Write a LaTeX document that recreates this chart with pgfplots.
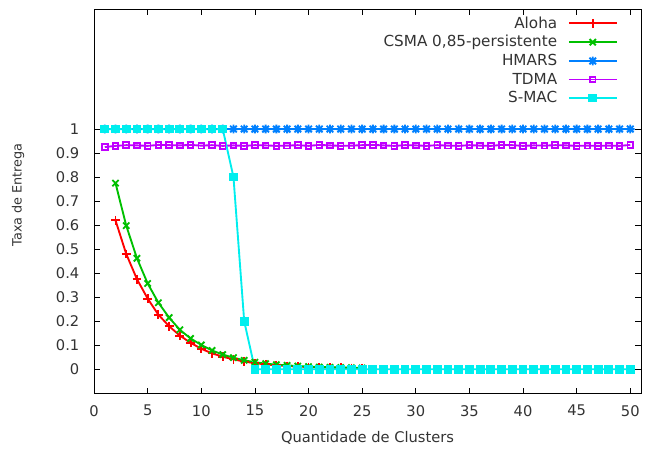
\documentclass[border=0pt]{standalone}
\usepackage{fontspec}
\setmainfont{DejaVu Sans}
\usepackage{pgfplots}
\pgfplotsset{compat=1.18}

\definecolor{gpred}{HTML}{FF0000}
\definecolor{gpgreen}{HTML}{00C000}
\definecolor{gpblue}{HTML}{0080FF}
\definecolor{gpmagenta}{HTML}{C000FF}
\definecolor{gpcyan}{HTML}{00EEEE}

% gnuplot style "*" point: a plus and a cross on top of each other
\pgfdeclareplotmark{gpstar}{%
  \pgfpathmoveto{\pgfqpoint{-\pgfplotmarksize}{0pt}}%
  \pgfpathlineto{\pgfqpoint{\pgfplotmarksize}{0pt}}%
  \pgfpathmoveto{\pgfqpoint{0pt}{-\pgfplotmarksize}}%
  \pgfpathlineto{\pgfqpoint{0pt}{\pgfplotmarksize}}%
  \pgfpathmoveto{\pgfqpoint{-0.75\pgfplotmarksize}{-0.75\pgfplotmarksize}}%
  \pgfpathlineto{\pgfqpoint{0.75\pgfplotmarksize}{0.75\pgfplotmarksize}}%
  \pgfpathmoveto{\pgfqpoint{-0.75\pgfplotmarksize}{0.75\pgfplotmarksize}}%
  \pgfpathlineto{\pgfqpoint{0.75\pgfplotmarksize}{-0.75\pgfplotmarksize}}%
  \pgfusepathqstroke}

\begin{document}
\begin{tikzpicture}
\begin{axis}[
    scale only axis,
    width=410pt, height=288pt,
    xmin=0, xmax=51,
    ymin=-0.1, ymax=1.5,
    xtick={0,5,...,50},
    ytick={0,0.1,0.2,0.3,0.4,0.5,0.6,0.7,0.8,0.9,1},
    yticklabels={0,0.1,0.2,0.3,0.4,0.5,0.6,0.7,0.8,0.9,1},
    /pgf/number format/assume math mode=true,
    tick style={black, line width=0.5pt},
    axis line style={line width=0.6pt},
    tick label style={font=\fontsize{11}{13}\selectfont, black!80},
    x tick label style={yshift=-5.5pt},
    y tick label style={xshift=-7.5pt},
    xlabel={Quantidade de Clusters},
    ylabel={Taxa de Entrega},
    every axis x label/.style={at={(axis description cs:0.5,0)}, anchor=center,
        yshift=-33.5pt, font=\fontsize{11}{13}\selectfont, text=black!80},
    every axis y label/.style={at={(axis description cs:0,0.516)}, anchor=center,
        rotate=90, yshift=57pt, font=\fontsize{9.6}{11}\selectfont, text=black!80},
    legend style={at={(axis description cs:0.965,0.995)}, anchor=north east,
        draw=none, fill=none, font=\fontsize{11.4}{13}\selectfont,
        row sep=0pt, column sep=6pt, text=black!80},
    legend cell align=right,
    legend plot pos=right,
    legend image code/.code={%
        \draw[mark repeat=2,mark phase=2,#1]
        plot coordinates {(0cm,0cm) (0.63cm,0cm) (1.26cm,0cm)};},
]
\addplot[color=gpred, line width=1.4pt, mark=+, mark size=3.3pt] coordinates {
(2,0.620) (3,0.480) (4,0.375) (5,0.294) (6,0.227) (7,0.179) (8,0.140)
(9,0.110) (10,0.085) (11,0.066) (12,0.052) (13,0.041) (14,0.032) (15,0.025)
(16,0.020) (17,0.016) (18,0.013) (19,0.011) (20,0.009) (21,0.008) (22,0.007)
(23,0.006) (24,0.005) (25,0.004)
};
\addlegendentry{Aloha}
\addplot[color=gpgreen, line width=1.4pt, mark=x, mark size=3.3pt] coordinates {
(2,0.775) (3,0.598) (4,0.462) (5,0.357) (6,0.277) (7,0.215) (8,0.164)
(9,0.128) (10,0.101) (11,0.078) (12,0.061) (13,0.048) (14,0.037) (15,0.029)
(16,0.023) (17,0.019) (18,0.016) (19,0.013) (20,0.011) (21,0.009) (22,0.008)
(23,0.007) (24,0.006) (25,0.005)
};
\addlegendentry{CSMA 0,85-persistente}
\addplot[color=gpblue, line width=1.4pt, mark=gpstar, mark size=3.3pt] coordinates {
(1,1) (2,1) (3,1) (4,1) (5,1) (6,1) (7,1) (8,1) (9,1) (10,1)
(11,1) (12,1) (13,1) (14,1) (15,1) (16,1) (17,1) (18,1) (19,1) (20,1)
(21,1) (22,1) (23,1) (24,1) (25,1) (26,1) (27,1) (28,1) (29,1) (30,1)
(31,1) (32,1) (33,1) (34,1) (35,1) (36,1) (37,1) (38,1) (39,1) (40,1)
(41,1) (42,1) (43,1) (44,1) (45,1) (46,1) (47,1) (48,1) (49,1) (50,1)
};
\addlegendentry{HMARS}
\addplot[color=gpmagenta, line width=1.4pt, mark=square, mark size=2.1pt] coordinates {
(1,0.925) (2,0.930) (3,0.933) (4,0.932) (5,0.930) (6,0.934) (7,0.933)
(8,0.932) (9,0.934) (10,0.931) (11,0.933) (12,0.930) (13,0.932) (14,0.930)
(15,0.933) (16,0.932) (17,0.930) (18,0.931) (19,0.933) (20,0.930) (21,0.934)
(22,0.932) (23,0.930) (24,0.931) (25,0.933) (26,0.934) (27,0.932) (28,0.930)
(29,0.933) (30,0.932) (31,0.930) (32,0.933) (33,0.931) (34,0.930) (35,0.933)
(36,0.931) (37,0.930) (38,0.934) (39,0.933) (40,0.930) (41,0.932) (42,0.931)
(43,0.933) (44,0.932) (45,0.930) (46,0.931) (47,0.930) (48,0.931) (49,0.930)
(50,0.934)
};
\addlegendentry{TDMA}
\addplot[color=gpcyan, line width=1.4pt, mark=square*, mark size=2.6pt] coordinates {
(1,1) (2,1) (3,1) (4,1) (5,1) (6,1) (7,1) (8,1) (9,1) (10,1)
(11,1) (12,1) (13,0.8) (14,0.2) (15,0) (16,0) (17,0) (18,0) (19,0) (20,0)
(21,0) (22,0) (23,0) (24,0) (25,0) (26,0) (27,0) (28,0) (29,0) (30,0)
(31,0) (32,0) (33,0) (34,0) (35,0) (36,0) (37,0) (38,0) (39,0) (40,0)
(41,0) (42,0) (43,0) (44,0) (45,0) (46,0) (47,0) (48,0) (49,0) (50,0)
};
\addlegendentry{S-MAC}
\end{axis}
% white margin round the plot, as in the reference image
\path ([shift={(-70.5pt,-42.75pt)}]current axis.south west)
  rectangle ([shift={(6.75pt,6.75pt)}]current axis.north east);
\end{tikzpicture}
\end{document}
